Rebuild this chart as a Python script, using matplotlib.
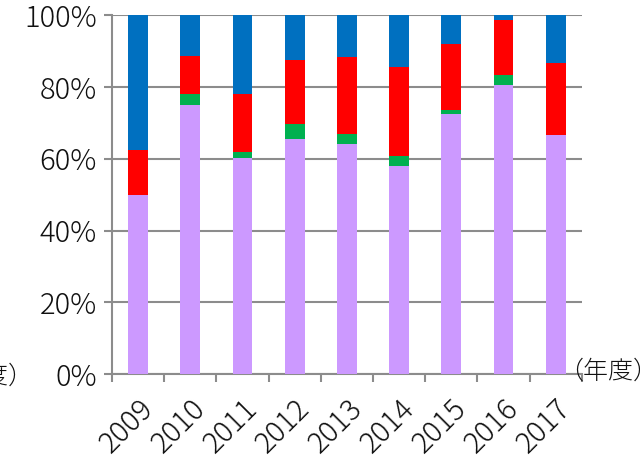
import numpy as np
import matplotlib
matplotlib.use("Agg")
import matplotlib.pyplot as plt

plt.rcParams['font.family'] = ['Noto Sans CJK JP', 'DejaVu Sans']

years = ['2009', '2010', '2011', '2012', '2013', '2014', '2015', '2016', '2017']
purple = [50.0, 75.0, 60.1, 65.4, 64.0, 58.0, 72.5, 80.4, 66.6]
green = [0.0, 2.9, 1.9, 4.4, 3.0, 2.7, 1.0, 2.8, 0.0]
red = [12.5, 10.7, 15.9, 17.8, 21.3, 24.8, 18.5, 15.5, 20.1]
blue = [37.5, 11.4, 22.1, 12.4, 11.7, 14.5, 8.0, 1.3, 13.3]

series = [purple, green, red, blue]
colors = ['#CC99FF', '#00B050', '#FF0000', '#0070C0']

fig = plt.figure(figsize=(6.4, 4.58), dpi=100)
ax = fig.add_axes([0.175, 0.183, 0.734, 0.784])

x = np.arange(len(years))
bottom = np.zeros(len(years))
for vals, c in zip(series, colors):
    ax.bar(x, vals, width=0.38, bottom=bottom, color=c, zorder=3)
    bottom += np.array(vals)

grid_c = '#8c8c8c'
txt_c = '#111111'
ax.set_xlim(-0.5, len(years) - 0.5)
ax.set_ylim(0, 100)
ax.set_yticks(np.arange(0, 101, 20))
ax.set_yticklabels([f'{v}%' for v in range(0, 101, 20)], fontsize=21,
                   color=txt_c, fontweight='light')
ax.yaxis.grid(True, color=grid_c, linewidth=1.5, zorder=0)

# year labels at bar centres, tick marks between categories
ax.set_xticks(x)
ax.set_xticklabels(years, rotation=45, ha='right', rotation_mode='anchor',
                   fontsize=21, color=txt_c, fontweight='light')
ax.tick_params(axis='x', which='major', length=0, pad=14)
ax.set_xticks(np.arange(-0.5, len(years), 1), minor=True)
ax.tick_params(axis='x', which='minor', length=6, width=1.5, color=grid_c)
ax.tick_params(axis='y', length=6, width=1.5, color=grid_c, pad=5)

for side in ['top', 'right']:
    ax.spines[side].set_visible(False)
for side in ['left', 'bottom']:
    ax.spines[side].set_color(grid_c)
    ax.spines[side].set_linewidth(1.5)

fig.text(0.872, 0.19, '（年度）', fontsize=18, color=txt_c, va='center',
         ha='left', fontweight='light')
fig.text(0.052, 0.178, '（年度）', fontsize=18, color=txt_c, va='center',
         ha='right', fontweight='light')

fig.savefig('out.png', dpi=100)
